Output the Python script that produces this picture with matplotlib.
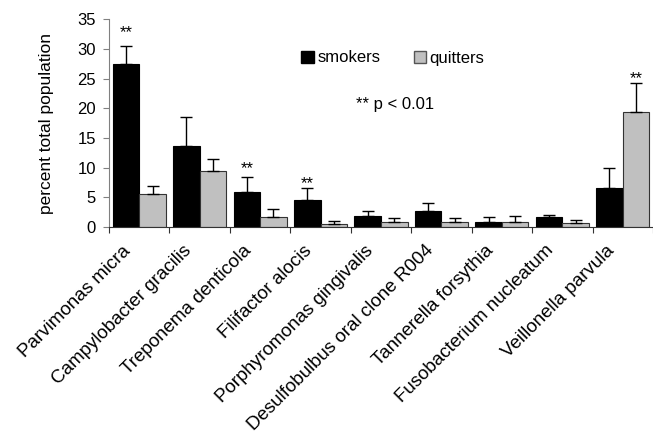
import numpy as np
import matplotlib.pyplot as plt
from matplotlib.patches import Patch

plt.rcParams["font.family"] = ["Liberation Sans", "DejaVu Sans"]

species = ["Parvimonas micra", "Campylobacter gracilis", "Treponema denticola",
           "Filifactor alocis", "Porphyromonas gingivalis",
           "Desulfobulbus oral clone R004", "Tannerella forsythia",
           "Fusobacterium nucleatum", "Veillonella parvula"]
smokers = [27.4, 13.7, 5.8, 4.6, 1.9, 2.7, 0.75, 1.6, 6.5]
smokers_err = [3.1, 4.8, 2.65, 2.0, 0.8, 1.25, 1.0, 0.45, 3.5]
quitters = [5.5, 9.5, 1.75, 0.45, 0.85, 0.75, 0.75, 0.6, 19.4]
quitters_err = [1.4, 2.0, 1.2, 0.5, 0.7, 0.75, 1.1, 0.5, 4.8]
# ** marks: category index, series, height of the mark
signif = [(0, "s", 32.8), (2, "s", 9.8), (3, "s", 7.3), (8, "q", 25.0)]

fig = plt.figure(figsize=(6.53, 4.44), dpi=100)
ax = fig.add_axes([0.167, 0.489, 0.833, 0.4675])

x = np.arange(len(species))
w = 0.44
zeros = [0] * len(species)
ax.bar(x - w / 2, smokers, w, color="black", edgecolor="black",
       linewidth=0.8, yerr=[zeros, smokers_err], capsize=4,
       error_kw=dict(elinewidth=1, capthick=1, ecolor="black"))
ax.bar(x + w / 2, quitters, w, color="#c0c0c0", edgecolor="#333333",
       linewidth=0.8, yerr=[zeros, quitters_err], capsize=4,
       error_kw=dict(elinewidth=1, capthick=1, ecolor="black"))

for i, s, h in signif:
    xs = x[i] - w / 2 if s == "s" else x[i] + w / 2
    ax.text(xs, h, "**", ha="center", va="center", fontsize=12)

fig.text(395 / 653, 1 - 104 / 444, "** p < 0.01", fontsize=12,
         ha="center", va="center")

ax.set_xlim(-0.5, len(species) - 0.5)
ax.set_ylim(0, 35)
ax.set_yticks(range(0, 36, 5))
ax.set_xticks(np.arange(len(species) + 1) - 0.5)
ax.set_xticklabels([])
# labels sit a little left of the group centre
ax.set_xticks(x - 0.28, minor=True)
ax.set_xticklabels(species, minor=True, rotation=45, ha="right",
                   rotation_mode="anchor", fontsize=13.5)
ax.tick_params(axis="x", which="minor", length=0, pad=11)
ax.tick_params(axis="x", which="major", length=4, direction="out",
               color="#333333")
ax.tick_params(axis="y", length=4, labelsize=12, pad=5.5, color="#808080")
ax.set_ylabel("percent total population", fontsize=12.5, labelpad=17)

for side in ["top", "right"]:
    ax.spines[side].set_visible(False)
ax.spines["left"].set_color("#808080")
ax.spines["bottom"].set_color("#333333")

handles = [Patch(facecolor="black", edgecolor="black"),
           Patch(facecolor="#c0c0c0", edgecolor="#555555")]
fig.legend(handles, ["smokers", "quitters"], loc="center left",
           bbox_to_anchor=(293 / 653, 1 - 58 / 444), ncol=2,
           frameon=False, fontsize=12, handlelength=0.75, handleheight=0.75,
           handletextpad=0.2, columnspacing=2.0, borderpad=0)

fig.savefig("out.png", dpi=100)
